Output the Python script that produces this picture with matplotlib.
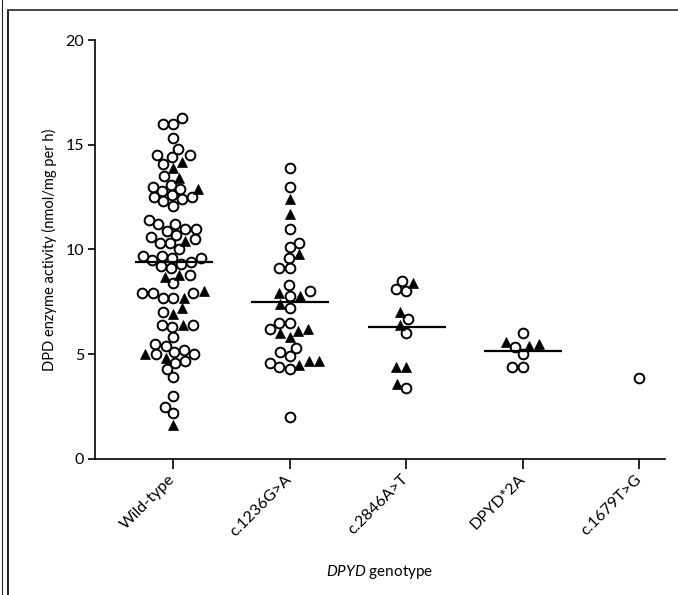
import numpy as np
import matplotlib
matplotlib.use("Agg")
from matplotlib import pyplot as plt
from matplotlib.lines import Line2D

plt.rcParams['font.family'] = ['Lato', 'DejaVu Sans']
plt.rcParams['mathtext.fontset'] = 'custom'
plt.rcParams['mathtext.it'] = 'Lato:italic'
plt.rcParams['mathtext.rm'] = 'Lato'

genotypes = ['Wild-type', 'c.1236G>A', 'c.2846A>T', 'DPYD*2A', 'c.1679T>G']

# open circles and filled triangles per genotype (nmol/mg per h)
circles_wt = [16.0, 16.0, 16.3, 15.3, 14.5, 14.4, 14.1, 14.5, 14.8, 13.5, 13.1, 12.8,
              13.0, 12.9, 12.6, 12.5, 12.5, 12.1, 12.3, 12.4, 11.2, 10.9, 11.0, 11.0,
              11.2, 11.4, 10.6, 10.3, 10.3, 10.5, 10.7, 10.0, 9.7, 9.6, 9.5, 9.6, 9.7,
              9.4, 9.2, 9.1, 9.3, 8.8, 8.4, 7.9, 7.9, 7.7, 7.7, 7.9, 7.0, 6.4, 6.4, 6.3,
              5.8, 5.4, 5.5, 5.2, 5.0, 5.0, 4.6, 4.7, 5.1, 4.3, 3.9, 3.0, 2.2, 2.5]
triangles_wt = [14.2, 13.9, 13.4, 12.9, 10.4, 8.7, 8.8, 7.7, 8.0, 7.2, 6.9, 6.4, 4.8, 5.0, 1.6]

circles_1236 = [13.9, 13.0, 11.0, 10.3, 10.1, 9.6, 9.1, 9.1, 8.3, 7.8, 8.0, 7.2, 6.5, 6.5,
                6.2, 5.1, 5.3, 4.6, 4.4, 4.3, 4.9, 2.0]
triangles_1236 = [12.4, 11.7, 9.8, 7.9, 7.8, 7.4, 6.2, 6.0, 5.8, 6.1, 4.7, 4.5, 4.7]

circles_2846 = [8.0, 8.1, 8.5, 6.7, 6.0, 3.4]
triangles_2846 = [8.4, 7.0, 6.4, 4.4, 4.4, 3.6]

circles_2a = [5.35, 6.0, 5.0, 4.4, 4.4]
triangles_2a = [5.6, 5.4, 5.5]

circles_1679 = [3.85]
triangles_1679 = []

circles = [circles_wt, circles_1236, circles_2846, circles_2a, circles_1679]
triangles = [triangles_wt, triangles_1236, triangles_2846, triangles_2a, triangles_1679]
medians = [9.4, 7.5, 6.3, 5.15, None]

y_ticks = [0, 5, 10, 15, 20]


def swarm_offsets(values_px, diameter):
    """ place points side by side so that no two markers overlap (pixel units) """
    order = np.argsort(values_px)
    placed = []
    offsets = np.zeros(len(values_px))
    for i in order:
        y = values_px[i]
        candidates = [0.0]
        for px, py in placed:
            dy = y - py
            if abs(dy) < diameter:
                dx = np.sqrt(diameter ** 2 - dy ** 2)
                candidates += [px - dx, px + dx]
        candidates.sort(key=abs)
        for c in candidates:
            if all((c - px) ** 2 + (y - py) ** 2 >= diameter ** 2 - 1e-6 for px, py in placed):
                offsets[i] = c
                break
        placed.append((offsets[i], y))
    return offsets


fig = plt.figure(figsize=(6.78, 5.95), dpi=100)
ax = fig.add_axes([95 / 678, 1 - 459 / 595, (665 - 95) / 678, (459 - 40) / 595])
ax.set_xlim(-0.67, 4.22)
ax.set_ylim(0, 20)

# pixel sizes of one data unit
origin = ax.transData.transform((0, 0))
x_px = ax.transData.transform((1, 0))[0] - origin[0]
y_px = ax.transData.transform((0, 1))[1] - origin[1]

for i in range(len(genotypes)):
    vals = np.array(circles[i] + triangles[i], dtype=float)
    is_tri = np.array([False] * len(circles[i]) + [True] * len(triangles[i]))
    offs = swarm_offsets(vals * y_px, 10.5) / x_px
    xs = i + offs
    ax.plot(xs[~is_tri], vals[~is_tri], 'o', ms=7, mfc='white', mec='black', mew=1.4,
            linestyle='none', zorder=3)
    if is_tri.any():
        ax.plot(xs[is_tri], vals[is_tri], '^', ms=6.5, mfc='black', mec='black', mew=0.5,
                linestyle='none', zorder=4)
    if medians[i] is not None:
        ax.hlines(medians[i], i - 0.33, i + 0.34, color='black', lw=1.6, zorder=5)

for side in ['top', 'right']:
    ax.spines[side].set_visible(False)
ax.spines['left'].set_linewidth(1.2)
ax.spines['bottom'].set_linewidth(1.2)

ax.set_yticks(y_ticks)
ax.set_yticklabels([str(t) for t in y_ticks], fontsize=11.5)
ax.tick_params(axis='y', length=5, width=1.2, pad=3)
ax.set_xticks(range(len(genotypes)))
ax.set_xticklabels(genotypes, fontsize=11.5, rotation=45, ha='right', va='center',
                   rotation_mode='anchor')
ax.tick_params(axis='x', length=7, width=1.2, pad=6)

ax.set_ylabel('DPD enzyme activity (nmol/mg per h)', fontsize=10.5, labelpad=6)
fig.text(380 / 678, 1 - 572 / 595, r'$\it{DPYD}$ genotype', fontsize=11,
         ha='center', va='center')

# scan frame
fig.add_artist(Line2D([1.5 / 678, 1.5 / 678], [0, 1], color='#222222', lw=0.8))
fig.add_artist(Line2D([7.5 / 678, 7.5 / 678], [0, 1 - 10 / 595], color='#222222', lw=1.4))
fig.add_artist(Line2D([7.5 / 678, 1], [1 - 10 / 595, 1 - 10 / 595], color='#444444', lw=1.4))

fig.savefig('out.png', dpi=100)
